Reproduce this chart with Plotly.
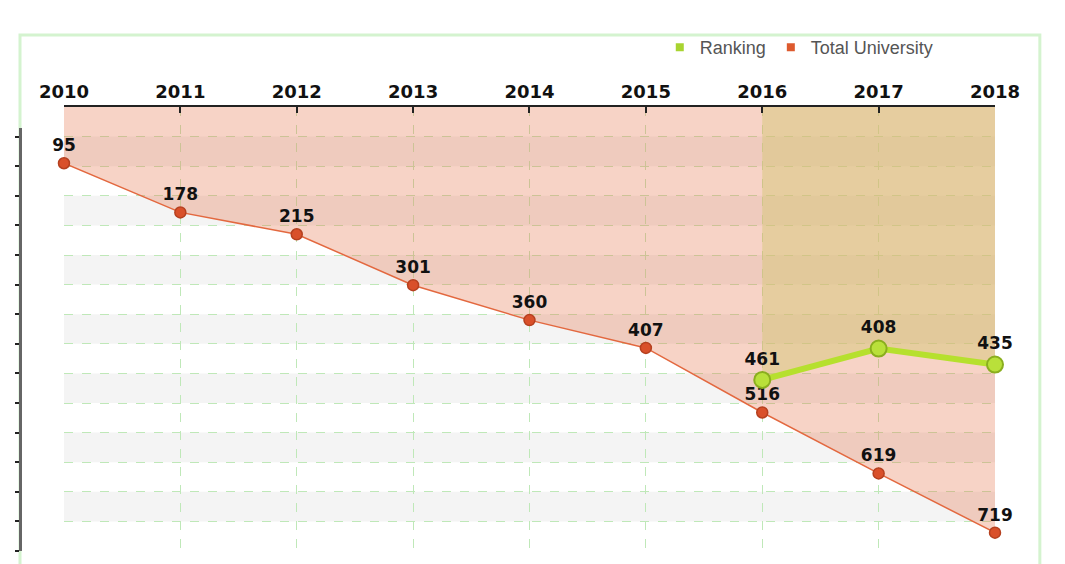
import plotly.graph_objects as go

years = [2010, 2011, 2012, 2013, 2014, 2015, 2016, 2017, 2018]
total_university = [95, 178, 215, 301, 360, 407, 516, 619, 719]
rank_years = [2016, 2017, 2018]
ranking = [461, 408, 435]
band_starts = [50, 150, 250, 350, 450, 550, 650]
band_width = 50

LABEL_FONT = dict(family="DejaVu Sans", size=17, color="#111111", weight="bold")
GRID = "#bfe8b8"

fig = go.Figure()

# left decorative axis (own hidden x axis so no extra grid is drawn)
fig.add_trace(go.Scatter(x=[None], y=[None], xaxis="x2", yaxis="y2",
                         showlegend=False, hoverinfo="skip"))

# Total University
fig.add_trace(go.Scatter(
    x=years, y=total_university, mode="lines+markers+text",
    text=[str(v) for v in total_university], textposition="top center",
    textfont=LABEL_FONT,
    line=dict(color="#e3683f", width=1.5),
    marker=dict(color="#d9502a", size=11, line=dict(color="#b5401f", width=1.5)),
    fill="tozeroy", fillcolor="rgba(232,120,82,0.33)",
    showlegend=False, cliponaxis=False,
))

# Ranking
fig.add_trace(go.Scatter(
    x=rank_years, y=ranking, mode="lines+markers+text",
    text=[str(v) for v in ranking], textposition="top center",
    textfont=LABEL_FONT,
    line=dict(color="#b6e02e", width=6),
    marker=dict(color="#b9e03a", size=16, line=dict(color="#8aae1e", width=2)),
    fill="tozeroy", fillcolor="rgba(214,200,120,0.5)",
    showlegend=False, cliponaxis=False,
))

# legend entries (square swatches)
fig.add_trace(go.Scatter(x=[None], y=[None], mode="markers", name="Ranking",
                         marker=dict(symbol="square", size=8, color="#a8d430"),
                         legendrank=1))
fig.add_trace(go.Scatter(x=[None], y=[None], mode="markers", name="Total University",
                         marker=dict(symbol="square", size=8, color="#dd5a2e"),
                         legendrank=2))

shapes = []
for b in band_starts:
    shapes.append(dict(type="rect", xref="paper", yref="y", x0=0.0451, x1=1,
                       y0=b, y1=b + band_width, fillcolor="#f4f4f4",
                       line=dict(width=0), layer="below"))
# light green frame
shapes.append(dict(type="rect", xref="paper", yref="paper", x0=0.0, x1=1.046,
                   y0=-0.2, y1=1.162, line=dict(color="#d4f3cf", width=3),
                   fillcolor="rgba(0,0,0,0)", layer="below"))

fig.update_layout(
    width=1065, height=564,
    margin=dict(l=12, r=78, t=99, b=21, autoexpand=False),
    paper_bgcolor="white", plot_bgcolor="rgba(0,0,0,0)",
    shapes=shapes,
    xaxis=dict(
        domain=[0.0451, 1], range=[2010, 2018], side="top",
        tickvals=years, ticktext=[str(y) for y in years],
        tickfont=dict(family="DejaVu Sans", size=18, color="#111111", weight="bold"),
        showline=True, linecolor="#222222", linewidth=1.5,
        ticks="inside", ticklen=6, tickcolor="#222222", tickwidth=1.5,
        showgrid=True, gridcolor=GRID, griddash="dash", gridwidth=1,
        zeroline=False, fixedrange=True, automargin=False,
    ),
    xaxis2=dict(domain=[0.0451, 1], anchor="y2", visible=False, showgrid=False,
                zeroline=False, automargin=False),
    yaxis=dict(
        range=[750, 0], tick0=0, dtick=50, showticklabels=False,
        showgrid=True, gridcolor=GRID, griddash="dash", gridwidth=1,
        zeroline=False, showline=False, ticks="", automargin=False,
    ),
    yaxis2=dict(
        anchor="free", position=0, domain=[0, 0.953],
        range=[750, 750 - 0.953 * 750], tick0=0, dtick=50,
        showticklabels=False, showgrid=False, zeroline=False,
        showline=True, linecolor="#666666", linewidth=3,
        ticks="outside", ticklen=4, tickcolor="#222222", tickwidth=2,
        automargin=False,
    ),
    legend=dict(orientation="h", xref="container", yref="container",
                x=0.612, y=0.93, xanchor="left", yanchor="middle",
                font=dict(family="Liberation Sans", size=18, color="#555555"),
                bgcolor="rgba(0,0,0,0)", itemwidth=30, traceorder="normal"),
)

fig.write_html("out.html")
